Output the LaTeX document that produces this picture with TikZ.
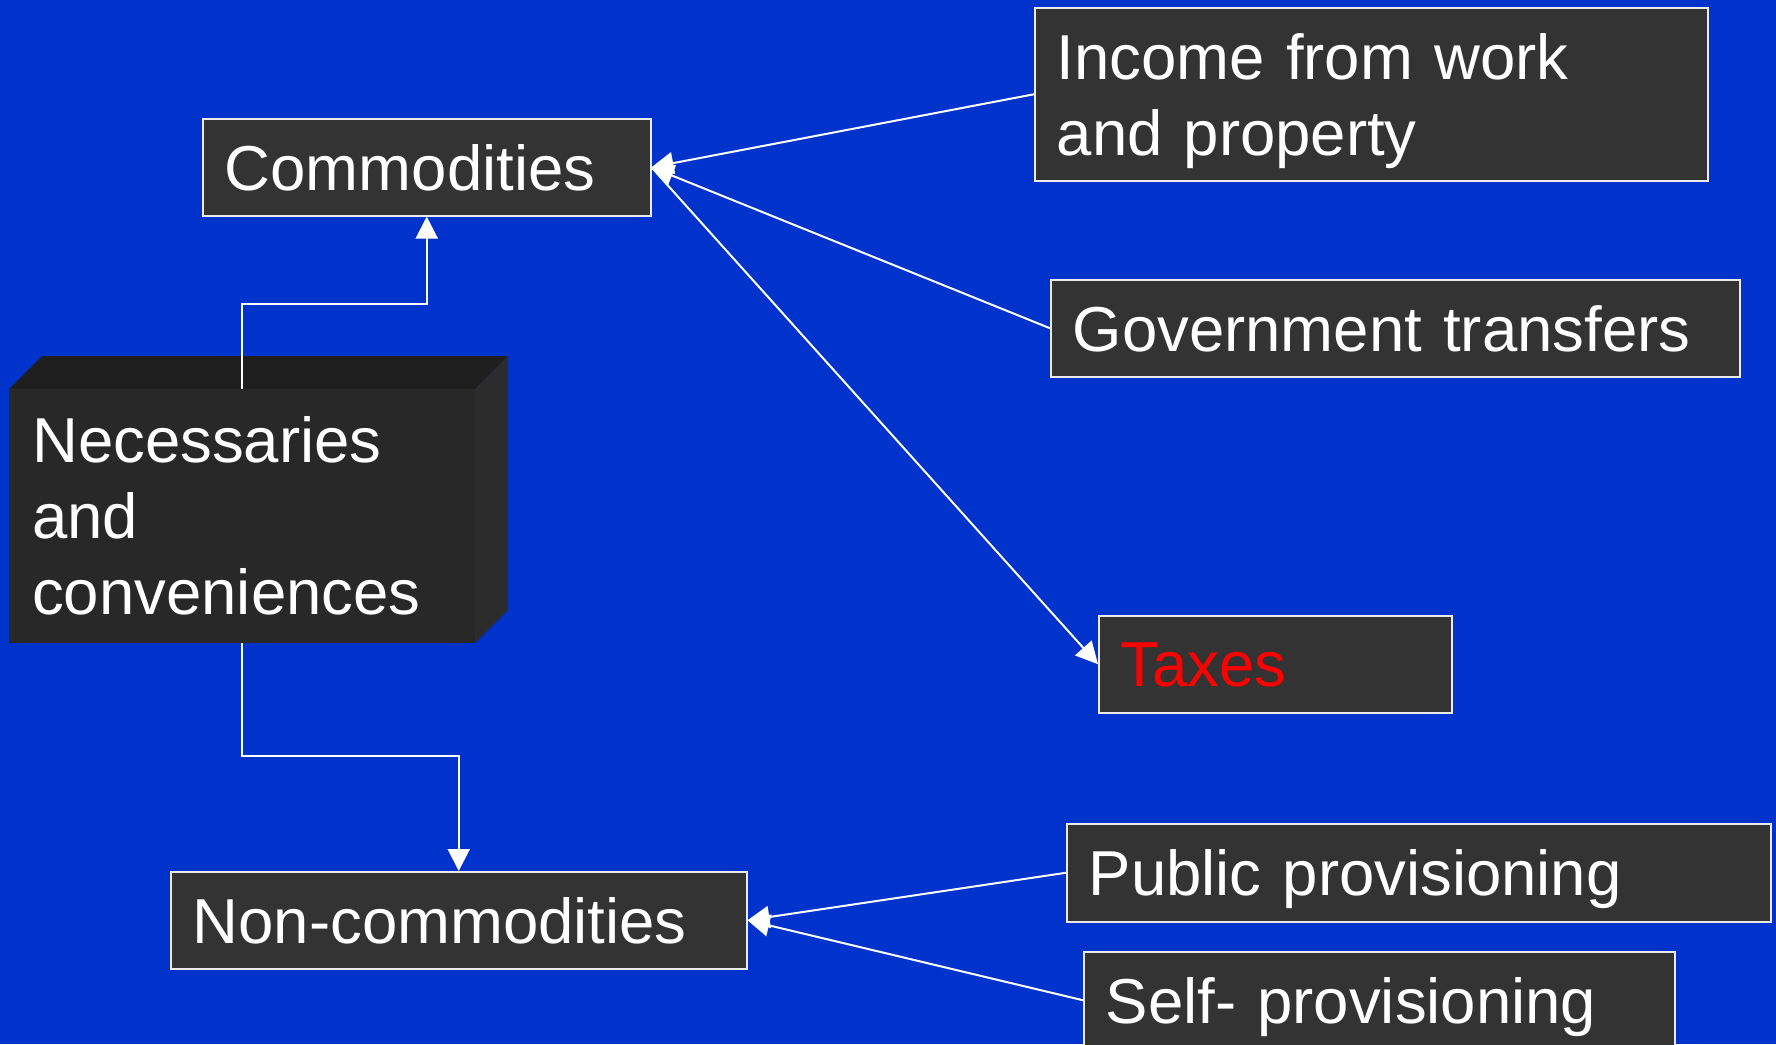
\documentclass[tikz,border=0pt]{standalone}
\usepackage{fontspec}
\setmainfont{Liberation Sans}
\usetikzlibrary{arrows.meta}
\definecolor{bgblue}{RGB}{0,51,204}
\definecolor{boxfill}{RGB}{51,51,51}
\definecolor{frontface}{RGB}{40,40,40}
\definecolor{topface}{RGB}{30,30,30}
\definecolor{sideface}{RGB}{44,44,44}
\definecolor{taxred}{RGB}{255,0,0}
\begin{document}
\begin{tikzpicture}[x=1pt,y=-1pt,
  every node/.style={font=\fontsize{63.5}{76}\selectfont, text=white},
  boxbase/.style={draw=white!92!black, line width=1.5pt, fill=boxfill, anchor=north west,
    inner xsep=22pt, inner ysep=0pt, align=left},
  box/.style={boxbase, text depth=0pt},
  arr/.style={draw=white, line width=2pt, -{Triangle[length=22pt,width=22pt]}}]
\useasboundingbox (0,0) rectangle (1776,1044);
\fill[bgblue] (0,0) rectangle (1776,1044);
% 3D block
\fill[topface] (9,389) -- (42,356) -- (508,356) -- (475,389) -- cycle;
\fill[sideface] (475,389) -- (508,356) -- (508,610) -- (475,643) -- cycle;
\node[fill=frontface, anchor=north west, inner xsep=23pt, inner ysep=0pt, align=left,
  text width=420pt, minimum height=254pt] (nec) at (9,389) {Necessaries\\and\\conveniences};
% boxes
\node[box, text width=404pt, minimum height=97pt] (com) at (202,118) {Commodities};
\node[boxbase, text width=629pt, minimum height=173pt] (inc) at (1034,7) {\rule{0pt}{60pt}Income from work\\and property};
\node[box, text width=645pt, minimum height=97pt] (gov) at (1050,279) {Government transfers};
\node[box, text width=309pt, minimum height=97pt, text=taxred] (tax) at (1098,615) {Taxes};
\node[box, text width=660pt, minimum height=98pt] (pub) at (1066,823) {Public provisioning};
\node[box, text width=547pt, minimum height=97pt] (self) at (1083,951) {Self- provisioning};
\node[box, text width=532pt, minimum height=97pt] (nc) at (170,871) {Non-commodities};
% connectors
\draw[arr] (nec.north) -- ++(0,-85) -| (com.south);
\draw[arr] (nec.south) -- ++(0,113) -| (nc.north);
\draw[arr] (inc.west) -- (com.east);
\draw[arr] (gov.west) -- (com.east);
\draw[arr] (com.east) -- (tax.west);
\draw[arr] (pub.west) -- (nc.east);
\draw[arr] (self.west) -- (nc.east);
\end{tikzpicture}
\end{document}
